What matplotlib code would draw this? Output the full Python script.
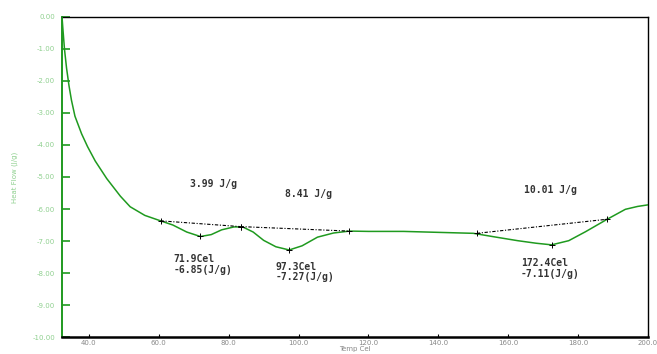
import matplotlib
matplotlib.use("Agg")
import matplotlib.pyplot as plt

# ---- data ----
temp = [32.3, 32.5, 33.0, 33.6, 34.3, 35.0, 36.0, 37.9, 39.6, 41.8, 45.1, 49.0, 51.8, 56.0,
        60.5, 64.0, 68.0, 71.9, 75.0, 78.0, 81.5, 84.0, 87.0, 90.0, 93.5, 97.3,
        101.0, 105.4, 110.0, 114.5, 120.0, 130.0, 140.0, 150.0, 156.0, 162.7,
        168.0, 172.4, 177.3, 182.1, 188.3, 193.5, 197.0, 200.0]
heat_flow = [0.0, -0.3, -1.0, -1.6, -2.15, -2.6, -3.1, -3.65, -4.05, -4.5, -5.05, -5.6, -5.93, -6.2,
             -6.37, -6.5, -6.72, -6.86, -6.8, -6.65, -6.56, -6.56, -6.72, -6.98, -7.18, -7.28,
             -7.15, -6.88, -6.75, -6.69, -6.70, -6.70, -6.73, -6.76, -6.87, -6.99,
             -7.07, -7.12, -6.99, -6.71, -6.32, -6.01, -5.92, -5.87]

baseline_x = [[60.5, 83.4], [83.4, 114.5], [151.0, 188.3]]
baseline_y = [[-6.37, -6.55], [-6.55, -6.69], [-6.76, -6.32]]

peak_t = [71.9, 97.3, 172.4]
peak_v = [-6.85, -7.27, -7.11]

enthalpy = ["3.99 J/g", "8.41 J/g", "10.01 J/g"]
enth_x = [75.7, 102.7, 172.2]
enth_y = [-5.23, -5.53, -5.41]
peak_lbl_x = [64.1, 93.5, 163.6]
peak_lbl_y = [-7.73, -7.97, -7.87]

xticks = [40, 60, 80, 100, 120, 140, 160, 180, 200]
yticks = [0, -1, -2, -3, -4, -5, -6, -7, -8, -9, -10]

fig = plt.figure(figsize=(6.57, 3.54), dpi=100)
ax = fig.add_axes([0.0944, 0.048, 0.892, 0.904])

green = "#1f9a1f"
ax.plot(temp, heat_flow, color=green, lw=1.1, zorder=3)

for bx, by in zip(baseline_x, baseline_y):
    ax.plot(bx, by, color="black", lw=0.8, ls=(0, (3, 1.5, 1, 1.5)), zorder=4)
    ax.plot(bx, by, ls="none", marker="+", color="black", ms=4, mew=0.7, zorder=5)
ax.plot(peak_t, peak_v, ls="none", marker="+", color="black", ms=4, mew=0.7, zorder=5)

txt_kw = dict(fontsize=7, fontweight="bold", color="#333333", family="DejaVu Sans Mono")
for s, x, y in zip(enthalpy, enth_x, enth_y):
    ax.text(x, y, s, ha="center", va="center", **txt_kw)
for t, v, x, y in zip(peak_t, peak_v, peak_lbl_x, peak_lbl_y):
    ax.text(x, y, f"{t:.1f}Cel\n{v:.2f}(J/g)", ha="left", va="center",
            linespacing=1.1, **txt_kw)

ax.set_xlim(32.3, 200)
ax.set_ylim(-10, 0)
ax.set_xticks(xticks)
ax.set_xticklabels([f"{t:.1f}" for t in xticks], fontsize=5, color="#888888")
ax.set_yticks(yticks)
ax.set_yticklabels([f"{t:.2f}" for t in yticks], fontsize=5, color="#8fd08f")
ax.tick_params(axis="y", direction="in", length=6, width=1.2, color=green, pad=5)
ax.tick_params(axis="x", direction="in", length=2.2, width=0.8, color="black", pad=2.5)

ax.spines["left"].set_color(green)
ax.spines["left"].set_linewidth(1.4)
ax.spines["bottom"].set_color("black")
ax.spines["bottom"].set_linewidth(1.8)
ax.spines["top"].set_color("black")
ax.spines["top"].set_linewidth(1.0)
ax.spines["right"].set_color("black")
ax.spines["right"].set_linewidth(1.0)

ax.set_ylabel("Heat Flow (J/g)", fontsize=5, color="#8fd08f", labelpad=10)
ax.set_xlabel("Temp Cel", fontsize=5, color="#888888", labelpad=-0.5)

fig.savefig("out.png", dpi=100)
